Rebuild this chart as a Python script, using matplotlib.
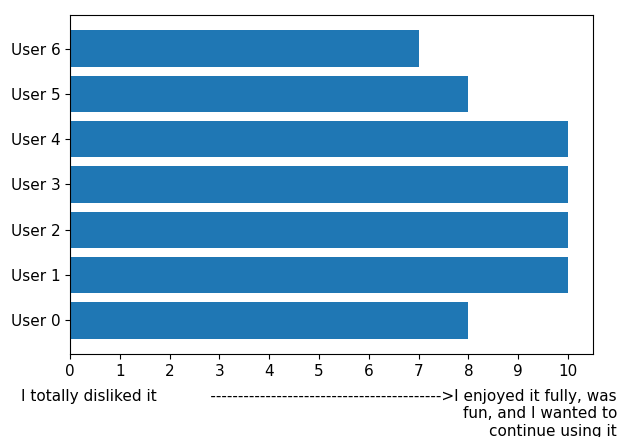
import matplotlib
matplotlib.use("Agg")
import matplotlib.pyplot as plt

plt.rcParams["font.size"] = 11

users = ["User 0", "User 1", "User 2", "User 3", "User 4", "User 5", "User 6"]
scores = [8, 10, 10, 10, 10, 8, 7]
xticks = list(range(0, 11))

fig = plt.figure(figsize=(6.2, 4.37), dpi=100)
ax = fig.add_axes([70/620, 1-354/437, (593-70)/620, (354-15)/437])
ax.barh(users, scores, color="#1f77b4")
ax.set_xticks(xticks)
ax.set_xlim(0, 10.5)

label = ("I totally disliked it" + " " * 11 + "-" * 42 + ">I enjoyed it fully, was\n"
         "fun, and I wanted to\ncontinue using it")
fig.text(617/620, 1-389/437, label, ha="right", va="top", ma="right", fontsize=11)

fig.savefig("out.png", dpi=100)
